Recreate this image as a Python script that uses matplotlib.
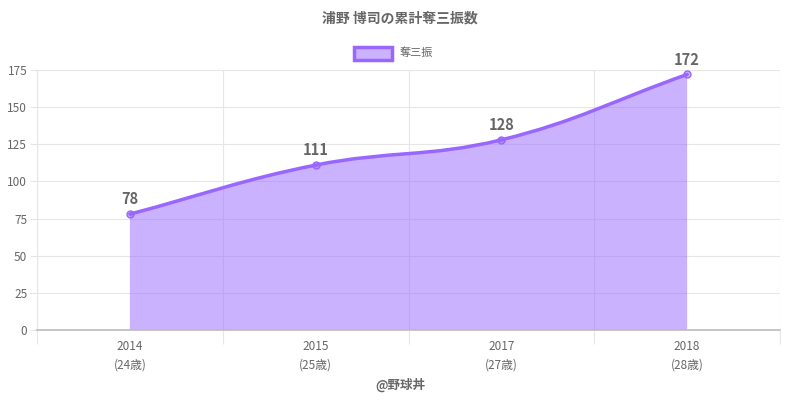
import numpy as np
import matplotlib
matplotlib.use("Agg")
import matplotlib.pyplot as plt
from matplotlib.path import Path
from matplotlib.patches import PathPatch, Rectangle

plt.rcParams['font.family'] = ['Noto Sans CJK JP', 'DejaVu Sans']

title = '浦野 博司の累計奪三振数'
series_name = '奪三振'
years = ['2014', '2015', '2017', '2018']
ages = ['(24歳)', '(25歳)', '(27歳)', '(28歳)']
strikeouts = [78, 111, 128, 172]
credit = '@野球丼'

line_color = '#9966ff'
fill_color = (153 / 255, 102 / 255, 1.0, 0.5)
text_color = '#666666'
grid_color = '#e6e6e6'

fig = plt.figure(figsize=(8, 4), dpi=100)
ax = fig.add_axes([37 / 800, 70 / 400, 743 / 800, 260 / 400])
ax.set_xlim(-0.5, len(years) - 0.5)
ax.set_ylim(0, 175)

xs = np.arange(len(years), dtype=float)
ys = np.array(strikeouts, dtype=float)

# bezier control points like chart.js (tension 0.4), computed in pixel space
pts = ax.transData.transform(np.column_stack([xs, ys]))
tension = 0.4
verts = [tuple(pts[0])]
codes = [Path.MOVETO]
ctrl_prev = []
ctrl_next = []
for i in range(len(pts)):
    p1 = pts[i]
    p0 = pts[i - 1] if i > 0 else p1
    p2 = pts[i + 1] if i < len(pts) - 1 else p1
    d01 = np.hypot(*(p1 - p0))
    d12 = np.hypot(*(p2 - p1))
    tot = d01 + d12
    s01 = d01 / tot if tot else 0
    s12 = d12 / tot if tot else 0
    ctrl_prev.append(p1 - tension * s01 * (p2 - p0))
    ctrl_next.append(p1 + tension * s12 * (p2 - p0))
for i in range(1, len(pts)):
    verts += [tuple(ctrl_next[i - 1]), tuple(ctrl_prev[i]), tuple(pts[i])]
    codes += [Path.CURVE4] * 3
inv = ax.transData.inverted()
data_verts = inv.transform(np.array(verts))

line_path = Path(data_verts, codes)
fill_verts = list(data_verts) + [(xs[-1], 0), (xs[0], 0), tuple(data_verts[0])]
fill_codes = codes + [Path.LINETO, Path.LINETO, Path.CLOSEPOLY]
ax.add_patch(PathPatch(Path(fill_verts, fill_codes), facecolor=fill_color,
                       edgecolor='none', zorder=2))
ax.add_patch(PathPatch(line_path, facecolor='none', edgecolor=line_color,
                       lw=2.5, zorder=3, capstyle='round', joinstyle='round'))
ax.plot(xs, ys, 'o', ms=5, mfc=fill_color, mec=line_color, mew=1, zorder=4)

for x, y in zip(xs, ys):
    ax.annotate(str(int(y)), (x, y), xytext=(0, 5), textcoords='offset points',
                ha='center', va='bottom', fontsize=10.5, fontweight='bold',
                color=text_color, zorder=5)

# grid
ax.set_yticks(np.arange(0, 176, 25))
ax.set_xticks(np.arange(-0.5, len(years), 1.0))
ax.set_xticklabels([])
ax.set_xticks(xs, minor=True)
ax.set_xticklabels([f'{y}\n{a}' for y, a in zip(years, ages)], minor=True)
ax.tick_params(axis='x', which='minor', length=0, pad=7, labelsize=8.5,
               labelcolor=text_color)
ax.tick_params(axis='x', which='major', length=10, color=grid_color)
ax.tick_params(axis='y', length=5, color=grid_color, labelsize=8.5,
               labelcolor=text_color, pad=2)
ax.grid(True, which='major', color=grid_color, lw=0.8, zorder=0)
ax.set_axisbelow(True)
for s in ['top', 'right']:
    ax.spines[s].set_visible(False)
ax.spines['left'].set_color(grid_color)
ax.spines['bottom'].set_color('#bbbbbb')
ax.spines['bottom'].set_linewidth(1.2)
for lbl in ax.get_xticklabels(minor=True):
    lbl.set_linespacing(1.6)

fig.text(0.5, 1 - 18 / 400, title, ha='center', va='center', fontsize=10,
         fontweight='bold', color=text_color)
fig.text(0.5, 1 - 385 / 400, credit, ha='center', va='center', fontsize=9,
         fontweight='bold', color=text_color)

# legend
fig.patches.append(Rectangle((354 / 800, 1 - 60 / 400), 38 / 800, 13 / 400,
                             transform=fig.transFigure, facecolor=fill_color,
                             edgecolor=line_color, lw=2.5))
fig.text(400 / 800, 1 - 53 / 400, series_name, ha='left', va='center',
         fontsize=8, color=text_color)

fig.savefig('out.png', dpi=100)
